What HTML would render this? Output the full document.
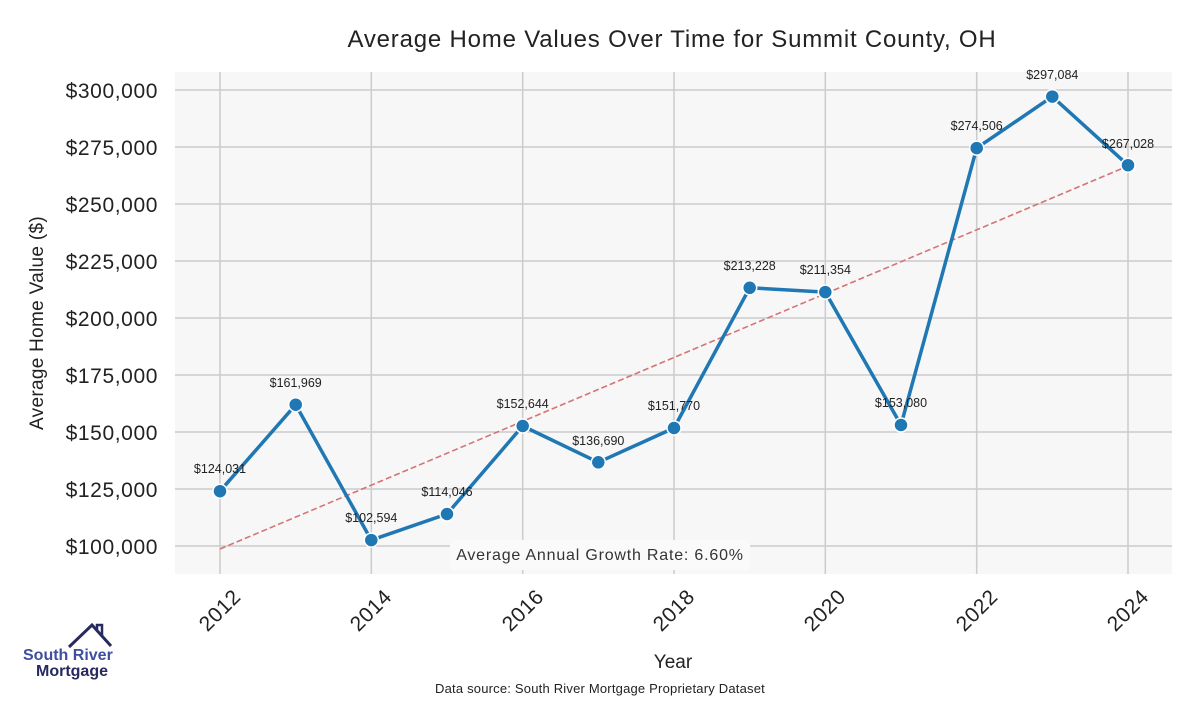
<!DOCTYPE html>
<html><head><meta charset="utf-8"><style>body{margin:0;background:#fff}</style></head><body>
<svg width="1200" height="700" xmlns="http://www.w3.org/2000/svg" font-family="Liberation Sans, sans-serif">
<rect width="1200" height="700" fill="#fff"/>
<rect x="175" y="72" width="997" height="502" fill="#f7f7f7"/>
<g stroke="#cccccc" stroke-width="1.5">
<line x1="220" y1="72" x2="220" y2="574"/><line x1="371.3" y1="72" x2="371.3" y2="574"/><line x1="522.7" y1="72" x2="522.7" y2="574"/><line x1="674" y1="72" x2="674" y2="574"/><line x1="825.3" y1="72" x2="825.3" y2="574"/><line x1="976.7" y1="72" x2="976.7" y2="574"/><line x1="1128" y1="72" x2="1128" y2="574"/>
<line x1="175" y1="90" x2="1172" y2="90"/><line x1="175" y1="147" x2="1172" y2="147"/><line x1="175" y1="204" x2="1172" y2="204"/><line x1="175" y1="261" x2="1172" y2="261"/><line x1="175" y1="318" x2="1172" y2="318"/><line x1="175" y1="375" x2="1172" y2="375"/><line x1="175" y1="432" x2="1172" y2="432"/><line x1="175" y1="489" x2="1172" y2="489"/><line x1="175" y1="546" x2="1172" y2="546"/>
</g>
<g font-size="21" fill="#222" text-anchor="end" letter-spacing="0.6">
<text x="158" y="98">$300,000</text><text x="158" y="155">$275,000</text><text x="158" y="212">$250,000</text><text x="158" y="269">$225,000</text><text x="158" y="326">$200,000</text><text x="158" y="383">$175,000</text><text x="158" y="440">$150,000</text><text x="158" y="497">$125,000</text><text x="158" y="554">$100,000</text>
</g>
<g font-size="21" fill="#222" text-anchor="end" letter-spacing="0.5">
<text transform="translate(242,598) rotate(-45)">2012</text><text transform="translate(393,598) rotate(-45)">2014</text><text transform="translate(545,598) rotate(-45)">2016</text><text transform="translate(696,598) rotate(-45)">2018</text><text transform="translate(847,598) rotate(-45)">2020</text><text transform="translate(999,598) rotate(-45)">2022</text><text transform="translate(1150,598) rotate(-45)">2024</text>
</g>
<text x="672" y="47" font-size="24" text-anchor="middle" fill="#222" letter-spacing="0.8">Average Home Values Over Time for Summit County, OH</text>
<text x="673" y="668" font-size="19" text-anchor="middle" fill="#222">Year</text>
<text transform="translate(43,323) rotate(-90)" font-size="19" text-anchor="middle" fill="#222" letter-spacing="0.3">Average Home Value ($)</text>
<text x="600" y="693" font-size="13" text-anchor="middle" fill="#222" letter-spacing="0.2">Data source: South River Mortgage Proprietary Dataset</text>
<line x1="220" y1="549" x2="1128" y2="166" stroke="#d47474" stroke-width="1.6" stroke-dasharray="6,3"/>
<rect x="450" y="540" width="300" height="30" rx="5" fill="#fafafa"/>
<text x="600" y="560" font-size="16" text-anchor="middle" fill="#333" letter-spacing="0.8">Average Annual Growth Rate: 6.60%</text>
<polyline fill="none" stroke="#1f77b4" stroke-width="3.5" stroke-linejoin="round" points="220,491.2 295.7,404.7 371.3,540.1 447,514 522.7,426 598.3,462.3 674,428 749.7,287.8 825.3,292.1 901,425 976.7,148.1 1052.3,96.6 1128,165.2"/>
<g fill="#1f77b4" stroke="#fff" stroke-width="1.5">
<circle cx="220" cy="491.2" r="7"/><circle cx="295.7" cy="404.7" r="7"/><circle cx="371.3" cy="540.1" r="7"/><circle cx="447" cy="514" r="7"/><circle cx="522.7" cy="426" r="7"/><circle cx="598.3" cy="462.3" r="7"/><circle cx="674" cy="428" r="7"/><circle cx="749.7" cy="287.8" r="7"/><circle cx="825.3" cy="292.1" r="7"/><circle cx="901" cy="425" r="7"/><circle cx="976.7" cy="148.1" r="7"/><circle cx="1052.3" cy="96.6" r="7"/><circle cx="1128" cy="165.2" r="7"/>
</g>
<g font-size="12.5" fill="#222" text-anchor="middle">
<text x="220" y="473">$124,031</text><text x="295.7" y="387">$161,969</text><text x="371.3" y="522">$102,594</text><text x="447" y="496">$114,046</text><text x="522.7" y="408">$152,644</text><text x="598.3" y="445">$136,690</text><text x="674" y="410">$151,770</text><text x="749.7" y="270">$213,228</text><text x="825.3" y="274">$211,354</text><text x="901" y="407">$153,080</text><text x="976.7" y="130">$274,506</text><text x="1052.3" y="79">$297,084</text><text x="1128" y="148">$267,028</text>
</g>
<polyline fill="none" stroke="#262a5e" stroke-width="3" points="69,647 92,625 111,646"/>
<polyline fill="none" stroke="#262a5e" stroke-width="2.5" points="97,630 97,625 102,625 102,636"/>
<text x="23" y="660" font-size="16" font-weight="bold" fill="#3d4fa0">South River</text>
<text x="36" y="676" font-size="16" font-weight="bold" fill="#262a5e">Mortgage</text>
</svg>
</body></html>
